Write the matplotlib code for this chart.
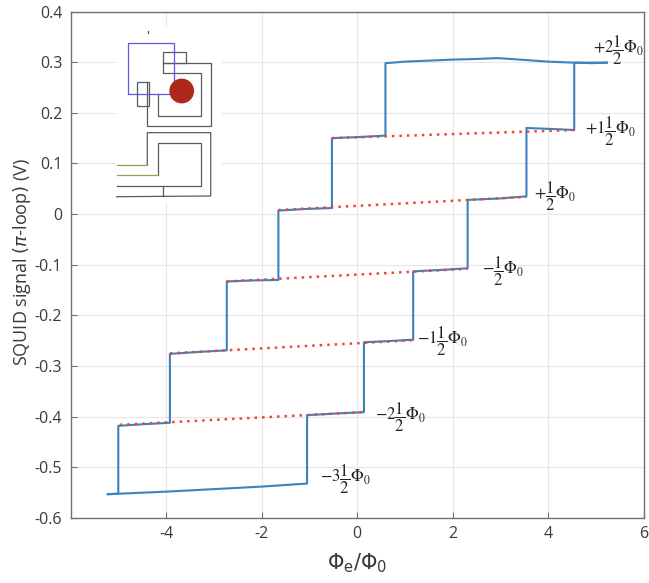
import numpy as np
import matplotlib.pyplot as plt
from matplotlib.patches import Circle, Rectangle

# blue trace, flux swept upwards
up_x = [-5.22, -4.0, -3.0, -2.0, -1.05, -1.05, -0.5, 0.14, 0.14, 0.6, 1.17, 1.17,
        1.8, 2.31, 2.31, 3.0, 3.54, 3.54, 4.1, 4.54, 4.54, 4.9, 5.22]
up_y = [-0.553, -0.548, -0.543, -0.538, -0.532, -0.397, -0.394, -0.391, -0.253,
        -0.251, -0.248, -0.113, -0.110, -0.107, 0.028, 0.031, 0.035, 0.170, 0.168,
        0.166, 0.299, 0.298, 0.299]

# blue trace, flux swept downwards
down_x = [5.22, 4.54, 4.0, 3.4, 2.94, 2.4, 2.0, 1.5, 1.0, 0.59, 0.59, 0.0, -0.53,
          -0.53, -1.1, -1.65, -1.65, -2.2, -2.73, -2.73, -3.3, -3.92, -3.92, -4.5,
          -5.0, -5.0, -5.22]
down_y = [0.299, 0.299, 0.301, 0.305, 0.308, 0.306, 0.305, 0.303, 0.301, 0.298,
          0.155, 0.152, 0.150, 0.012, 0.010, 0.007, -0.130, -0.131, -0.133, -0.269,
          -0.272, -0.276, -0.412, -0.415, -0.418, -0.552, -0.553]

# red dotted fits of the intermediate plateaus
fit_x0 = [-4.97, -3.92, -2.73, -1.65, -0.53]
fit_x1 = [0.12, 1.17, 2.31, 3.54, 4.54]
fit_y0 = [-0.416, -0.275, -0.133, 0.008, 0.150]
fit_y1 = [-0.391, -0.249, -0.108, 0.034, 0.166]

# plateau labels
labels = [r'${+}2\dfrac{1}{2}\Phi_0$', r'${+}1\dfrac{1}{2}\Phi_0$', r'${+}\dfrac{1}{2}\Phi_0$',
          r'${-}\dfrac{1}{2}\Phi_0$', r'${-}1\dfrac{1}{2}\Phi_0$', r'${-}2\dfrac{1}{2}\Phi_0$',
          r'${-}3\dfrac{1}{2}\Phi_0$']
label_x = [4.94, 4.76, 3.7, 2.62, 1.26, 0.38, -0.77]
label_y = [0.323, 0.163, 0.035, -0.113, -0.251, -0.402, -0.524]

xticks = [-4, -2, 0, 2, 4, 6]
yticks = [-0.6, -0.5, -0.4, -0.3, -0.2, -0.1, 0, 0.1, 0.2, 0.3, 0.4]

plt.rcParams['font.family'] = ['Open Sans', 'DejaVu Sans']

W, H = 649, 583
fig = plt.figure(figsize=(W / 100, H / 100), dpi=100)
ax = fig.add_axes([70.5 / W, 1 - 518 / H, 573.5 / W, 506.5 / H])

blue = '#3d82ba'
red = '#e8473f'
edge = '#707070'

ax.grid(True, color='#e6e6e6', lw=0.8)
ax.set_axisbelow(True)
for i in range(len(fit_x0)):
    ax.plot([fit_x0[i], fit_x1[i]], [fit_y0[i], fit_y1[i]], ls=(0, (1, 2.0)),
            color=red, lw=1.8, zorder=3)
ax.plot(up_x, up_y, color=blue, lw=1.5, zorder=2)
ax.plot(down_x, down_y, color=blue, lw=1.5, zorder=2)

for t, x, y in zip(labels, label_x, label_y):
    ax.text(x, y, t, ha='left', va='center', fontsize=12, math_fontfamily='stix',
            color='#222222', clip_on=False)

ax.set_xlim(-6, 6)
ax.set_ylim(-0.6, 0.4)
ax.set_xticks(xticks)
ax.set_yticks(yticks)
ax.set_xticklabels([str(v) for v in xticks])
ax.set_yticklabels(['-0.6', '-0.5', '-0.4', '-0.3', '-0.2', '-0.1', '0', '0.1', '0.2', '0.3', '0.4'])
ax.tick_params(direction='in', length=4, color=edge, labelsize=11.5, labelcolor='#3a3a3a', pad=6)
for s in ax.spines.values():
    s.set_color(edge)
    s.set_linewidth(1.0)
ax.set_xlabel(r'$\Phi_\mathrm{e}/\Phi_0$', fontsize=15, color='#3a3a3a',
              math_fontfamily='dejavusans')
ax.xaxis.set_label_coords(0.5, -0.065)
ax.set_ylabel(r'SQUID signal $(\pi$-loop$)$ (V)', fontsize=13, color='#3a3a3a')
ax.yaxis.set_label_coords(-0.066, 0.506)

# inset: sketch of the SQUID layout, drawn in image pixel units
ins = fig.add_axes([116 / W, 1 - 203 / H, 106 / W, 176 / H])
ins.set_xlim(116, 222)
ins.set_ylim(203, 27)
ins.set_xticks([])
ins.set_yticks([])
for s in ins.spines.values():
    s.set_visible(False)

gray_paths = [
    [(162.7, 63.0), (210.7, 63.0), (210.7, 126), (147.3, 126), (147.3, 82.3)],
    [(162.7, 63.0), (162.7, 72.7), (201, 72.7), (201, 115.7), (158.3, 115.7), (158.3, 94)],
    [(147.3, 165.3), (147.3, 132.7), (210.7, 132.7), (210.7, 196), (116.7, 196.7)],
    [(158.3, 175.3), (158.3, 142.7), (201, 142.7), (201, 185.7), (116.7, 185.7)],
    [(162.7, 185.7), (162.7, 196)],
    [(148.3, 30.5), (148.3, 32.5)],
]
for p in gray_paths:
    xs, ys = zip(*p)
    ins.plot(xs, ys, color='#5a5a5a', lw=0.9)
ins.add_patch(Rectangle((162.7, 52.3), 23.3, 11, fill=False, ec='#5a5a5a', lw=0.9))
ins.add_patch(Rectangle((137.3, 82.3), 12, 23.4, fill=False, ec='#5a5a5a', lw=0.9))
for p in [[(116.7, 165.3), (147.3, 165.3)], [(116.7, 175.3), (158.3, 175.3)]]:
    xs, ys = zip(*p)
    ins.plot(xs, ys, color='#9c9c55', lw=0.9)
bx, by = zip(*[(174.3, 84), (174.3, 42.7), (127.7, 42.7), (127.7, 94), (180, 94)])
ins.plot(bx, by, color='#5a5ae6', lw=0.9)
ins.add_patch(Circle((181.7, 91), 11.7, color='#b0281a', zorder=5))

fig.savefig('out.png', dpi=100)
